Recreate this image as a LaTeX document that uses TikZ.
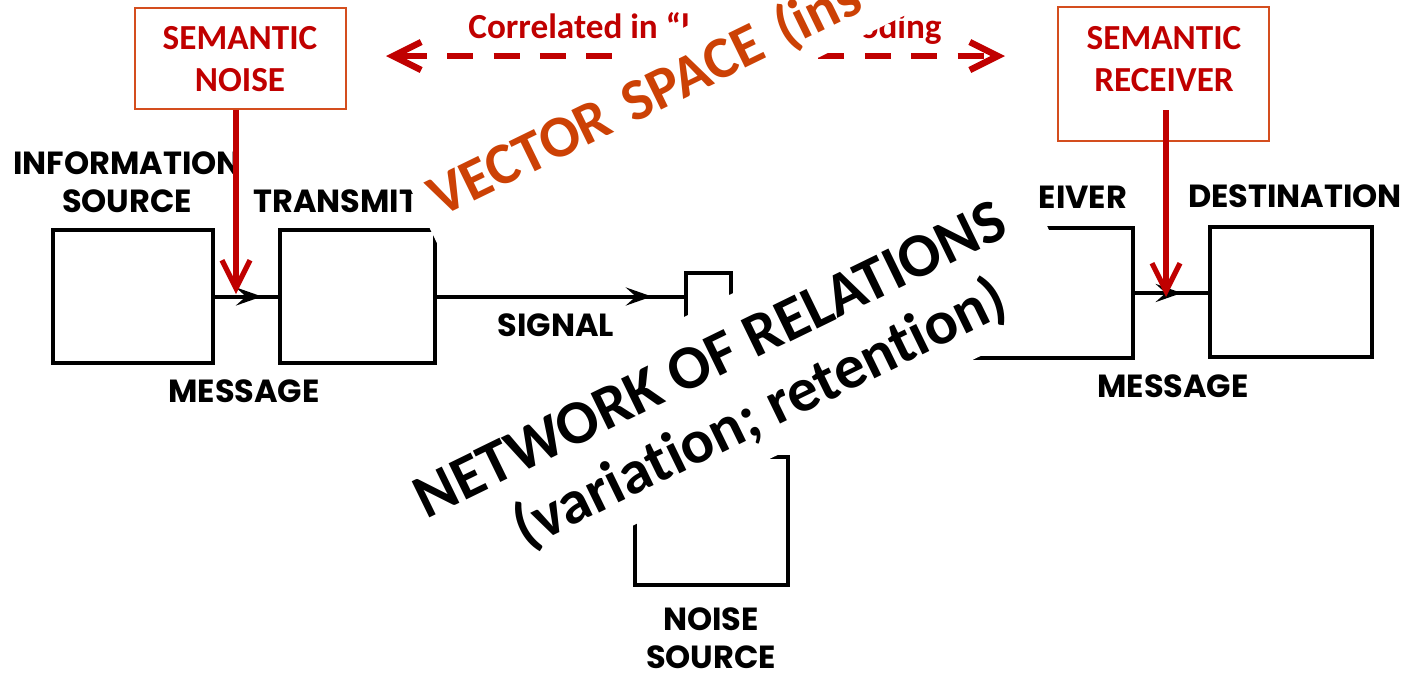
\documentclass[tikz,border=0pt]{standalone}
\usepackage{fontspec}
\setmainfont{Carlito}[Ligatures=NoCommon]
\newfontfamily\shfont{Poppins}
\usetikzlibrary{arrows.meta,decorations.markings}
\definecolor{semred}{RGB}{192,0,0}
\definecolor{boxorange}{RGB}{212,78,30}
\definecolor{vecorange}{RGB}{204,65,5}
\begin{document}
\begin{tikzpicture}[x=0.5pt,y=-0.5pt,
  shbox/.style={draw=black,line width=2pt,inner sep=0pt},
  shline/.style={line width=2pt},
  shlabel/.style={font=\shfont\bfseries\fontsize{16}{19}\selectfont,inner sep=0pt,align=center},
  shtip/.style={decoration={markings,mark=at position #1 with {\arrow{Stealth[length=13pt,width=9pt,inset=5pt]}}},postaction={decorate}},
  semframe/.style={draw=boxorange,line width=1pt,inner sep=0pt,minimum width=105.5pt},
  semtext/.style={text=semred,font=\bfseries\fontsize{17.6}{21}\selectfont,align=center,inner sep=0pt},
  redarrow/.style={draw=semred,line width=2.6pt,-{Straight Barb[length=14pt,width=14pt]}},
  reddash/.style={draw=semred,line width=3.2pt,dash pattern=on 13pt off 10.2pt,dash phase=21pt},
  overlaybox/.style={fill=white,rotate=26}
]
\useasboundingbox (0,0) rectangle (1410,682);
\clip (0,0) rectangle (1410,682);

% Shannon diagram
\node[shbox,minimum width=80pt,minimum height=66.5pt] (info) at (133,296.5) {};
\node[shbox,minimum width=77.5pt,minimum height=66.5pt] (trans) at (357.5,296.5) {};
\node[shbox,minimum width=22.5pt,minimum height=28.5pt] (rsig) at (708.5,301.5) {};
\node[shbox,minimum width=80pt,minimum height=65pt] (recv) at (1053,293) {};
\node[shbox,minimum width=81pt,minimum height=65pt] (dest) at (1291,292) {};
\node[shbox,minimum width=76.5pt,minimum height=64pt] (nsrc) at (711.5,521) {};

\draw[shline,shtip=0.746] (info.east) -- (trans.west);
\draw[shline,shtip=0.87] (trans.east) -- (trans.east -| rsig.west);
\draw[shline,shtip=0.64] (recv.east) -- (recv.east -| dest.west);

\node[shlabel] (infolbl) at (127,182.5) {INFORMATION\\SOURCE};
\node[shlabel,anchor=west] (translbl) at (253,201.5) {TRANSMIT};
\node[shlabel] (msg1) at (244,391) {MESSAGE};
\node[shlabel] (siglbl) at (556,325) {SIGNAL};
\node[shlabel] (recvlbl) at (1083,197) {EIVER};
\node[shlabel] (destlbl) at (1295,196) {DESTINATION};
\node[shlabel] (msg2) at (1173,386) {MESSAGE};
\node[shlabel] (nsrclbl) at (711,638.5) {NOISE\\SOURCE};

% correlated arrow
\node[semtext,anchor=base west] (corrl) at (468,38) {Correlated in “l};
\node[semtext,anchor=base east] (corrr) at (942,38) {oding};
\coordinate (dl) at (386,56);
\coordinate (dr) at (1005,56);
\draw[reddash,{Straight Barb[length=14pt,width=14pt]}-{Straight Barb[length=14pt,width=14pt]}] (dl) -- (dr);

% overlay texts
\node[overlaybox,text=vecorange,font=\bfseries\fontsize{29.5}{35}\selectfont,inner xsep=7.2pt,inner ysep=3.6pt,text height=28.4pt,text depth=7.4pt,text width=400pt,align=left,anchor=south west] (vec) at (437,244) {VECTOR SPACE (ins};
\node[overlaybox,text=black,font=\bfseries\fontsize{31}{35}\selectfont,align=center,inner xsep=7.2pt,inner ysep=0pt,minimum height=82.5pt,anchor=south east] (net) at (1086,305) {\rule{0pt}{26pt}NETWORK OF RELATIONS\hspace*{11pt}\\\hspace*{10pt}(variation; retention)};

% semantic boxes
\node[semframe,minimum height=50.5pt] (snbox) at (240,58) {};
\node[semtext] (sntext) at (240,59) {SEMANTIC\\NOISE};
\node[semframe,minimum height=67pt] (srbox) at (1163.5,74) {};
\node[semtext] (srtext) at (1164,59) {SEMANTIC\\RECEIVER};

\coordinate (sntip) at (236,294);
\draw[redarrow] (snbox.south -| sntip) -- (sntip);
\coordinate (srtip) at (1166,297);
\draw[redarrow,shorten <=9pt] (srtext.south -| srtip) -- (srtip);
\end{tikzpicture}
\end{document}
